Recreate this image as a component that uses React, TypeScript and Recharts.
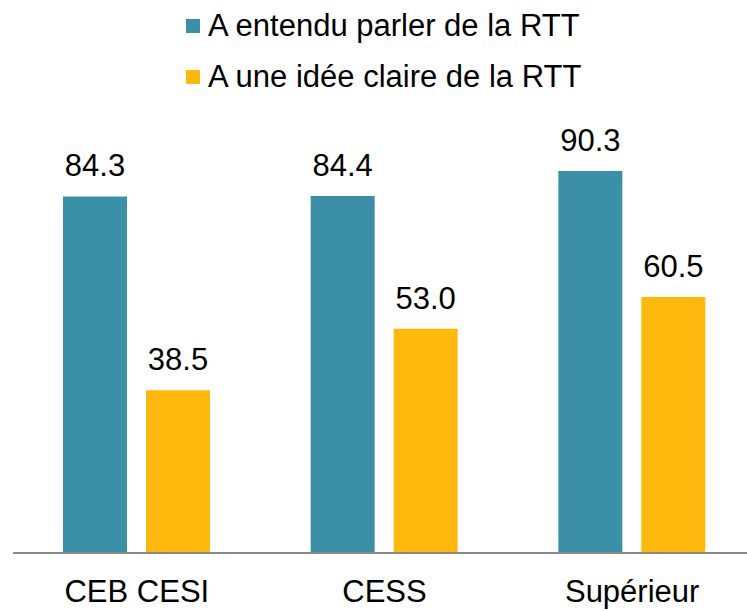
import { Bar, BarChart, LabelList, Legend, XAxis, YAxis } from 'recharts';

const categories = ['CEB CESI', 'CESS', 'Supérieur'];
const entendu = [84.3, 84.4, 90.3];
const claire = [38.5, 53.0, 60.5];

const seriesNames = ['A entendu parler de la RTT', 'A une idée claire de la RTT'];
const colors = ['#3b8fa7', '#ffb80d'];

const data = categories.map((name, i) => ({
  name,
  entendu: entendu[i],
  claire: claire[i],
}));

const font = '"Liberation Sans", Arial, sans-serif';

function LegendBox() {
  return (
    <div style={{ fontFamily: font, fontSize: 31, color: '#000' }}>
      {seriesNames.map((label, i) => (
        <div key={label} style={{ display: 'flex', alignItems: 'center', height: 51, whiteSpace: 'nowrap' }}>
          <span style={{ display: 'inline-block', width: 14, height: 14, background: colors[i], marginRight: 8 }} />
          <span style={{ lineHeight: '51px' }}>{label}</span>
        </div>
      ))}
    </div>
  );
}

export default function App() {
  return (
    <div
      style={{
        position: 'fixed',
        top: 0,
        left: 0,
        width: 747,
        height: 611,
        overflow: 'hidden',
        background: '#fff',
      }}
    >
      <BarChart
        width={760}
        height={611}
        data={data}
        margin={{ top: 130, right: 4, bottom: 0, left: 13 }}
        barCategoryGap={50}
        barGap={19}
      >
        <XAxis
          dataKey="name"
          height={58}
          axisLine={{ stroke: '#898989', strokeWidth: 2 }}
          tickLine={false}
          tickSize={0}
          tickMargin={27}
          tick={{ fill: '#000', fontSize: 31, fontFamily: font }}
        />
        <YAxis hide domain={[0, 100]} />
        <Legend
          layout="horizontal"
          verticalAlign="middle"
          align="center"
          content={() => <LegendBox />}
          wrapperStyle={{ top: 0, left: 186, width: 450, height: 110 }}
        />
        <Bar dataKey="entendu" fill={colors[0]} barSize={64} isAnimationActive={false}>
          <LabelList
            dataKey="entendu"
            position="top"
            offset={20}
            formatter={(v: number) => v.toFixed(1)}
            style={{ fill: '#000', fontSize: 31, fontFamily: font }}
          />
        </Bar>
        <Bar dataKey="claire" fill={colors[1]} barSize={64} isAnimationActive={false}>
          <LabelList
            dataKey="claire"
            position="top"
            offset={20}
            formatter={(v: number) => v.toFixed(1)}
            style={{ fill: '#000', fontSize: 31, fontFamily: font }}
          />
        </Bar>
      </BarChart>
    </div>
  );
}
